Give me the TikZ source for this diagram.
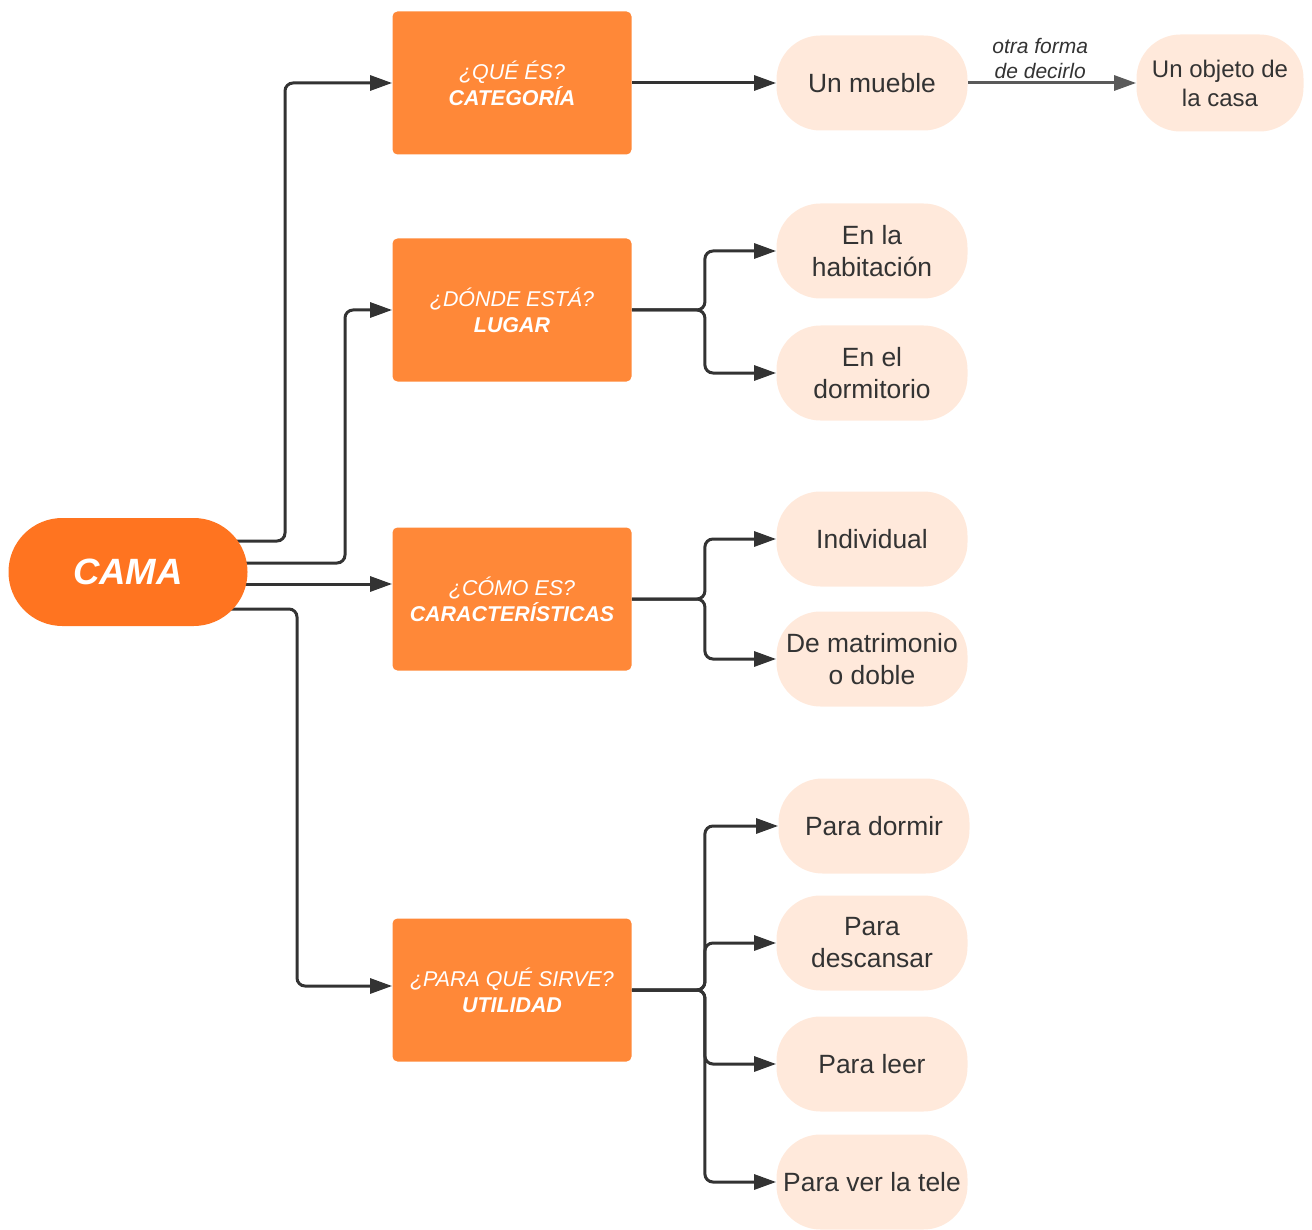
\documentclass[tikz,border=0pt]{standalone}
\usepackage{fontspec}
\setmainfont{Liberation Sans}
\usetikzlibrary{arrows.meta,backgrounds}

\definecolor{camaorange}{HTML}{FF7420}
\definecolor{boxorange}{HTML}{FF8838}
\definecolor{palepeach}{HTML}{FFE9DB}
\definecolor{linegray}{HTML}{333333}
\definecolor{sidegray}{HTML}{5A5A5A}

\tikzset{
  question/.style={fill=boxorange, rounded corners=2.5pt, minimum width=119.5pt,
    minimum height=71.5pt, inner sep=0pt, align=center, text=white,
    font=\fontsize{10.7}{13}\selectfont},
  answer/.style={fill=palepeach, rounded corners=22pt, minimum width=95.5pt,
    minimum height=47.5pt, inner sep=0pt, align=center, text=linegray,
    font=\fontsize{13.2}{16}\selectfont},
  link/.style={draw=linegray, line width=1.5pt, rounded corners=4pt,
    -{Triangle[length=11pt,width=7.5pt]}},
}

\begin{document}
\begin{tikzpicture}[x=0.5pt,y=-0.5pt]
\useasboundingbox (0,0) rectangle (1312,1230);

\node[fill=camaorange, rounded corners=26.9pt, minimum width=119.5pt, minimum height=54pt,
  text=white, font=\fontsize{18.3}{22}\selectfont\bfseries\itshape] (cama) at (128,572) {CAMA};

\node[question] (categoria) at (512,83) {\textit{¿QUÉ ÉS?}\\\textbf{\textit{CATEGORÍA}}};
\node[question] (lugar) at (512,310) {\textit{¿DÓNDE ESTÁ?}\\\textbf{\textit{LUGAR}}};
\node[question] (caracteristicas) at (512,599) {\textit{¿CÓMO ES?}\\\textbf{\textit{CARACTERÍSTICAS}}};
\node[question] (utilidad) at (512,990) {\textit{¿PARA QUÉ SIRVE?}\\\textbf{\textit{UTILIDAD}}};

\node[answer] (mueble) at (872,83) {Un mueble};
\node[answer, minimum width=83.5pt, minimum height=48.5pt,
  font=\fontsize{12}{14.5}\selectfont] (objeto) at (1220,83) {Un objeto de\\la casa};
\node[answer] (habitacion) at (872,251) {En la\\habitación};
\node[answer] (dormitorio) at (872,373) {En el\\dormitorio};
\node[answer] (individual) at (872,539) {Individual};
\node[answer] (matrimonio) at (872,659) {De matrimonio\\o doble};
\node[answer] (dormir) at (874,826) {Para dormir};
\node[answer] (descansar) at (872,943) {Para\\descansar};
\node[answer] (leer) at (872,1064) {Para leer};
\node[answer] (tele) at (872,1182) {Para ver la tele};

% connectors
\begin{scope}[on background layer]
\coordinate (j1) at (285,83);
\coordinate (j2) at (345,310);
\coordinate (j4) at (297,986);
\draw[link] ([yshift=15.5pt]cama.center) -| (j1) -- (categoria.west);
\draw[link] ([yshift=4.5pt]cama.center) -| (j2) -- (lugar.west);
\draw[link] ([yshift=-6pt]cama.center) -- ([yshift=7.5pt]caracteristicas.west);
\draw[link] ([yshift=-18.5pt]cama.center) -| (j4) -- ([yshift=2pt]utilidad.west);

\draw[link] (categoria.east) -- (mueble.west);

\coordinate (b2) at ([xshift=36.5pt]lugar.east);
\coordinate (b3) at ([xshift=36.5pt]caracteristicas.east);
\coordinate (b4) at ([xshift=36.5pt]utilidad.east);
\foreach \t in {habitacion, dormitorio}
  \draw[link] (lugar.east) -- (b2) |- (\t.west);
\foreach \t in {individual, matrimonio}
  \draw[link] (caracteristicas.east) -- (b3) |- (\t.west);
\foreach \t in {dormir, descansar, leer, tele}
  \draw[link] (utilidad.east) -- (b4) |- (\t.west);

\draw[draw=sidegray, line width=1.5pt, -{Triangle[length=11pt,width=7.5pt]}]
  (mueble.east) -- node[pos=0.43, above, inner sep=1.5pt, align=center, text=linegray,
  font=\fontsize{10.5}{12.5}\selectfont\itshape] (lbl) {otra forma\\de decirlo} (objeto.west);
\end{scope}

\end{tikzpicture}
\end{document}
